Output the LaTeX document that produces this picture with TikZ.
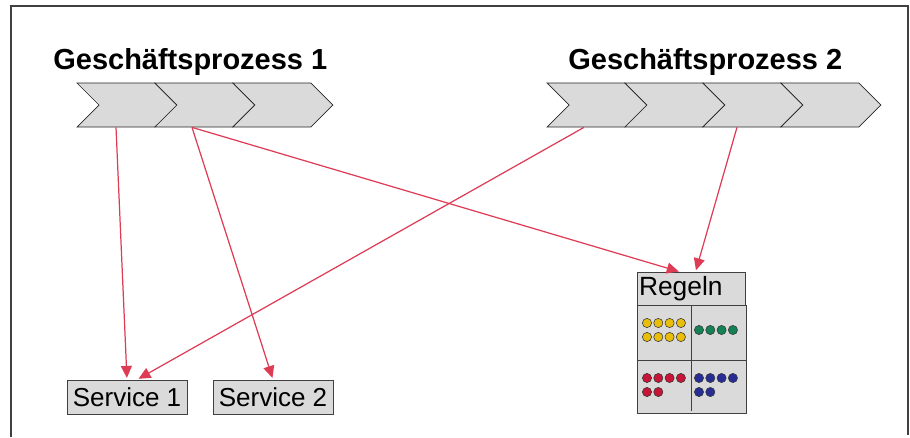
\documentclass[tikz,border=0pt]{standalone}
\usepackage{fontspec}
\setmainfont{Liberation Sans}
\usetikzlibrary{arrows.meta,positioning,shapes.symbols}

\definecolor{linkred}{RGB}{222,60,85}
\definecolor{boxgray}{RGB}{218,218,218}
\definecolor{dotyellow}{RGB}{232,190,10}
\definecolor{dotgreen}{RGB}{20,130,85}
\definecolor{dotred}{RGB}{200,20,55}
\definecolor{dotblue}{RGB}{40,45,150}

\tikzset{
  stepchev/.style={signal, signal to=east, signal from=west, draw=black!85,
    fill=boxgray, minimum width=2cm, minimum height=0.88cm, inner sep=0pt},
  servicebox/.style={draw=black!75, fill=boxgray, minimum width=2.4cm,
    minimum height=0.68cm, inner sep=1pt, font=\fontsize{14.8}{17}\selectfont},
  title/.style={anchor=base west, inner sep=0pt, font=\fontsize{16.5}{19}\selectfont\bfseries},
  ruledot/.style={draw=black!80, line width=0.3pt}
}

\begin{document}
\begin{tikzpicture}[x=0.02cm, y=-0.02cm, >={Triangle[length=2.4mm,width=2.2mm]},
    shorten >=1pt, node distance=1.56cm]

  \useasboundingbox (0,0) rectangle (910,437);
  \draw[black!75, line width=1.1pt] (11,437) -- (11,6) -- (908,6) -- (908,437);

  % Geschaeftsprozess 1
  \node[title] (t1) at (53,69) {Geschäftsprozess 1};
  \node[stepchev] (gpa1) at (127,105) {};
  \node[stepchev] (gpa2) [right of=gpa1] {};
  \node[stepchev] (gpa3) [right of=gpa2] {};

  % Geschaeftsprozess 2
  \node[title] (t2) at (568,69) {Geschäftsprozess 2};
  \node[stepchev] (gpb1) at (597,105) {};
  \node[stepchev] (gpb2) [right of=gpb1] {};
  \node[stepchev] (gpb3) [right of=gpb2] {};
  \node[stepchev] (gpb4) [right of=gpb3] {};

  % Services
  \node[servicebox] (s1) at (127,397) {Service 1};
  \node[servicebox] (s2) at (273,397) {Service 2};

  % Regeln
  \node[draw=black!75, fill=boxgray, text width=2.1cm, align=left, minimum height=0.66cm,
    inner sep=1pt, anchor=north, font=\fontsize{15}{17}\selectfont] (regeln) at (691.5,272) {Regeln};
  \draw[black!75, fill=boxgray] (regeln.south west) rectangle (regeln.east |- 0,413);
  \draw[black!75] (regeln.west |- 0,360) -- (regeln.east |- 0,360) (regeln.south) -- (691.5,413);

  \foreach \i in {0,...,3} {
    \foreach \j in {0,1}
      \filldraw[ruledot, fill=dotyellow] (647+11.3*\i,323+14*\j) circle (4.6);
    \filldraw[ruledot, fill=dotgreen] (699+11.3*\i,330) circle (4.6);
    \filldraw[ruledot, fill=dotred] (647+11.3*\i,378) circle (4.6);
    \filldraw[ruledot, fill=dotblue] (699+11.3*\i,378) circle (4.6);
  }
  \foreach \i in {0,1} {
    \filldraw[ruledot, fill=dotred] (647+11.3*\i,392) circle (4.6);
    \filldraw[ruledot, fill=dotblue] (699+11.3*\i,392) circle (4.6);
  }

  \path[->, linkred, line width=0.7pt]
  ([xshift=-0.22cm]gpa1.south) edge (s1.north)
  ([xshift=-0.26cm]gpa2.south) edge (s2.north)
  ([xshift=-0.26cm]gpa2.south) edge ([xshift=-0.22cm]regeln.north)
  ([xshift=-0.26cm]gpb1.south) edge ([xshift=0.2cm]s1.north)
  ([xshift=-0.32cm]gpb3.south) edge ([xshift=0.08cm]regeln.north)
  ;
\end{tikzpicture}
\end{document}
